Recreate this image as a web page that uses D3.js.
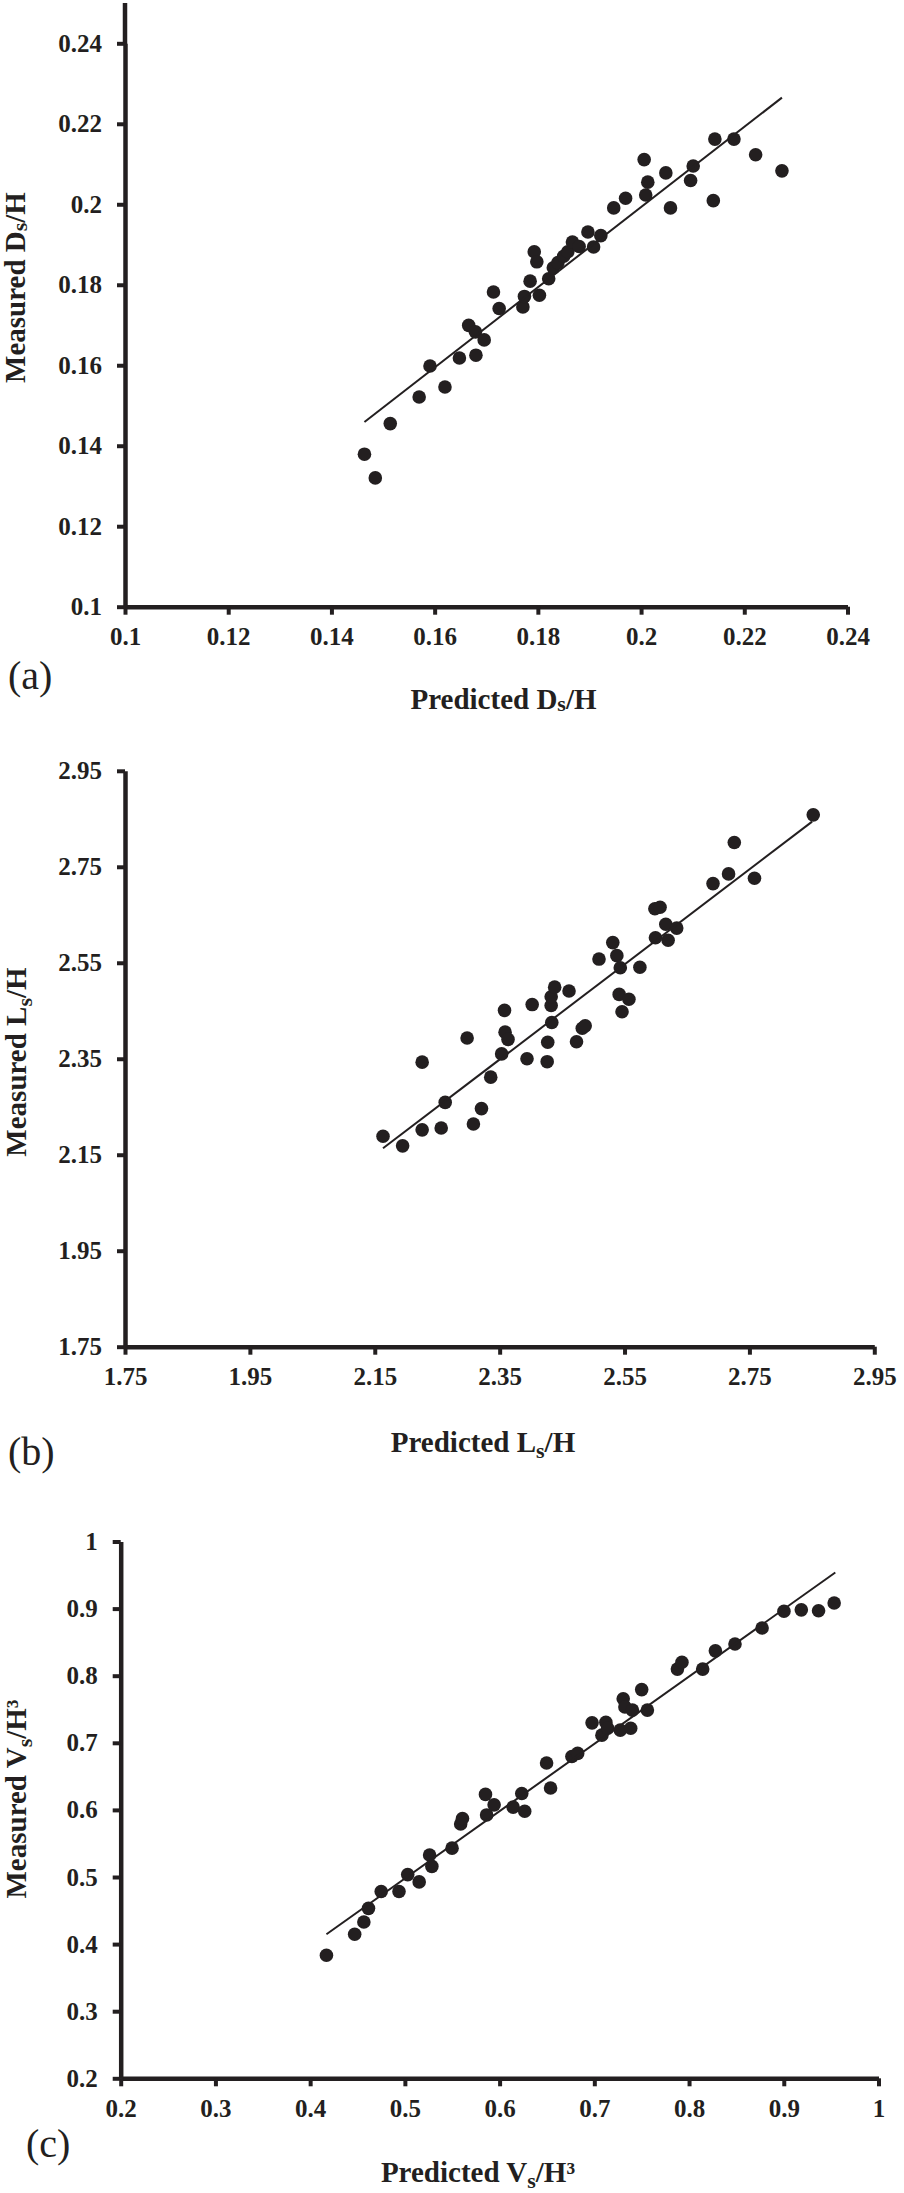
<!DOCTYPE html>
<html>
<head>
<meta charset="utf-8">
<script src="https://cdn.jsdelivr.net/npm/d3@7"></script>
<style>
  body { margin: 0; background: #fff; }
  svg text { font-family: "Liberation Serif", "Times New Roman", serif; }
</style>
</head>
<body>
<svg id="chart" width="904" height="2193"></svg>
<script>
// (a) Ds/H
var aPredicted = [0.1464, 0.1485, 0.1514, 0.1570, 0.1591, 0.1620, 0.1648, 0.1680, 0.1666, 0.1679,
                  0.1696, 0.1714, 0.1725, 0.1771, 0.1774, 0.1785, 0.1803, 0.1793, 0.1798, 0.1821,
                  0.1830, 0.1839, 0.1850, 0.1858, 0.1867, 0.1880, 0.1897, 0.1908, 0.1922, 0.1947,
                  0.1970, 0.2006, 0.2009, 0.2013, 0.2048, 0.2057, 0.2096, 0.2101, 0.2140, 0.2143,
                  0.2180, 0.2222, 0.2273];
var aMeasured  = [0.1379, 0.1320, 0.1455, 0.1521, 0.1598, 0.1546, 0.1618, 0.1625, 0.1699, 0.1683,
                  0.1663, 0.1782, 0.1741, 0.1745, 0.1771, 0.1809, 0.1774, 0.1882, 0.1857, 0.1815,
                  0.1842, 0.1855, 0.1871, 0.1882, 0.1906, 0.1895, 0.1931, 0.1894, 0.1922, 0.1991,
                  0.2015, 0.2111, 0.2023, 0.2055, 0.2078, 0.1991, 0.2059, 0.2095, 0.2009, 0.2162,
                  0.2162, 0.2123, 0.2083];
var aLineX = [0.1464, 0.2273];
var aLineY = [0.1459, 0.2265];
var aTicks = [0.1, 0.12, 0.14, 0.16, 0.18, 0.2, 0.22, 0.24];
var aTickLabels = ["0.1", "0.12", "0.14", "0.16", "0.18", "0.2", "0.22", "0.24"];

// (b) Ls/H
var bPredicted = [2.1632, 2.1946, 2.2259, 2.2259, 2.2564, 2.2628, 2.2979, 2.3080, 2.3209, 2.3357,
                  2.3532, 2.3578, 2.3587, 2.3634, 2.3938, 2.4021, 2.4261, 2.4270, 2.4335, 2.4325,
                  2.4325, 2.4381, 2.4611, 2.4731, 2.4823, 2.4870, 2.5091, 2.5312, 2.5377, 2.5432,
                  2.5414, 2.5460, 2.5570, 2.5746, 2.5986, 2.6069, 2.5995, 2.6161, 2.6198, 2.6336,
                  2.6917, 2.7166, 2.7258, 2.7581, 2.8522];
var bMeasured  = [2.1886, 2.1685, 2.2018, 2.3429, 2.2058, 2.2592, 2.3933, 2.2139, 2.2461, 2.3117,
                  2.3601, 2.4508, 2.4054, 2.3903, 2.3500, 2.4629, 2.3439, 2.3843, 2.4256, 2.4609,
                  2.4791, 2.4992, 2.4912, 2.3853, 2.4135, 2.4186, 2.5577, 2.5920, 2.5648, 2.5396,
                  2.4841, 2.4478, 2.4740, 2.5406, 2.6626, 2.6656, 2.6021, 2.6303, 2.5970, 2.6222,
                  2.7150, 2.7352, 2.8007, 2.7261, 2.8582];
var bLineX = [2.1632, 2.8504];
var bLineY = [2.1634, 2.8441];
var bTicks = [1.75, 1.95, 2.15, 2.35, 2.55, 2.75, 2.95];
var bTickLabels = ["1.75", "1.95", "2.15", "2.35", "2.55", "2.75", "2.95"];

// (c) Vs/H3
var cPredicted = [0.4172, 0.4470, 0.4567, 0.4616, 0.4750, 0.4938, 0.5030, 0.5151, 0.5261, 0.5285,
                  0.5498, 0.5589, 0.5608, 0.5851, 0.5863, 0.5942, 0.6143, 0.6234, 0.6265, 0.6496,
                  0.6538, 0.6763, 0.6824, 0.6976, 0.7080, 0.7122, 0.7141, 0.7274, 0.7305, 0.7323,
                  0.7384, 0.7402, 0.7500, 0.7560, 0.7877, 0.7925, 0.8144, 0.8278, 0.8485, 0.8771,
                  0.9002, 0.9185, 0.9367, 0.9532];
var cMeasured  = [0.3834, 0.4146, 0.4329, 0.4533, 0.4784, 0.4784, 0.5036, 0.4927, 0.5328, 0.5158,
                  0.5430, 0.5789, 0.5871, 0.6231, 0.5925, 0.6075, 0.6041, 0.6244, 0.5980, 0.6699,
                  0.6326, 0.6795, 0.6842, 0.7297, 0.7114, 0.7304, 0.7216, 0.7189, 0.7657, 0.7535,
                  0.7216, 0.7487, 0.7793, 0.7487, 0.8098, 0.8200, 0.8098, 0.8370, 0.8472, 0.8710,
                  0.8961, 0.8981, 0.8968, 0.9083];
var cLineX = [0.4172, 0.9544];
var cLineY = [0.4146, 0.9538];
var cTicks = [0.2, 0.3, 0.4, 0.5, 0.6, 0.7, 0.8, 0.9, 1];
var cTickLabels = ["0.2", "0.3", "0.4", "0.5", "0.6", "0.7", "0.8", "0.9", "1"];

var ink = "#231f20";
var svg = d3.select("#chart");

function panel(p) {
  var g = svg.append("g");
  var x = d3.scaleLinear().domain(p.xDomain).range(p.xRange);
  var y = d3.scaleLinear().domain(p.yDomain).range(p.yRange);

  // axes
  var xa = g.append("g")
      .attr("transform", "translate(0," + y(p.ticks[0]) + ")")
      .call(d3.axisBottom(x).tickValues(p.ticks).tickFormat((d, i) => p.labels[i])
        .tickSize(8).tickSizeOuter(0).tickPadding(13));
  var ya = g.append("g")
      .attr("transform", "translate(" + x(p.ticks[0]) + ",0)")
      .call(d3.axisLeft(y).tickValues(p.ticks).tickFormat((d, i) => p.labels[i])
        .tickSize(8).tickSizeOuter(0).tickPadding(15));

  [xa, ya].forEach(a => {
    a.attr("font-family", null).attr("font-size", 25).attr("font-weight", "bold").attr("color", ink);
    a.select(".domain").attr("stroke-width", 4.5);
    a.selectAll(".tick line").attr("stroke-width", 4);
  });

  // points
  g.append("g")
      .attr("fill", ink)
    .selectAll("circle")
    .data(p.px.map((v, i) => [v, p.py[i]]))
    .join("circle")
      .attr("cx", d => x(d[0]))
      .attr("cy", d => y(d[1]))
      .attr("r", 6.8);

  // trend line
  g.append("path")
      .datum(p.lx.map((v, i) => [v, p.ly[i]]))
      .attr("fill", "none")
      .attr("stroke", ink)
      .attr("stroke-width", 2)
      .attr("d", d3.line().x(d => x(d[0])).y(d => y(d[1])));

  // axis titles
  function title(sel, word, sym, subDy, rest) {
    sel.attr("fill", ink).attr("font-size", 29).attr("font-weight", "bold").attr("text-anchor", "middle");
    sel.append("tspan").text(word + " " + sym);
    sel.append("tspan").attr("font-size", 22).attr("dy", subDy).text("s");
    sel.append("tspan").attr("dy", -subDy).text(rest);
  }
  title(g.append("text").attr("x", p.xTitle[0]).attr("y", p.xTitle[1]),
        "Predicted", p.sym, p.subDy, p.rest);
  title(g.append("text").attr("transform", "translate(" + p.yTitle[0] + "," + p.yTitle[1] + ") rotate(-90)"),
        "Measured", p.sym, p.subDy, p.rest);

  g.append("text")
      .attr("x", p.tag[0])
      .attr("y", p.tag[1])
      .attr("fill", ink)
      .attr("font-size", 40)
      .text(p.tagText);
}

panel({
  px: aPredicted, py: aMeasured, lx: aLineX, ly: aLineY, ticks: aTicks, labels: aTickLabels,
  xDomain: [0.1, 0.24], xRange: [125, 847.5],
  yDomain: [0.1, 0.24], yRange: [606.7, 43.3],
  sym: "D", subDy: 2, rest: "/H",
  xTitle: [503.5, 709], yTitle: [25, 287.5], tag: [8, 689], tagText: "(a)"
});

panel({
  px: bPredicted, py: bMeasured, lx: bLineX, ly: bLineY, ticks: bTicks, labels: bTickLabels,
  xDomain: [1.75, 2.95], xRange: [125, 874.3],
  yDomain: [1.75, 2.95], yRange: [1346.7, 770.8],
  sym: "L", subDy: 6, rest: "/H",
  xTitle: [483, 1452], yTitle: [26, 1062], tag: [8, 1465], tagText: "(b)"
});

panel({
  px: cPredicted, py: cMeasured, lx: cLineX, ly: cLineY, ticks: cTicks, labels: cTickLabels,
  xDomain: [0.2, 1], xRange: [120.7, 878.5],
  yDomain: [0.2, 1], yRange: [2078.3, 1541.5],
  sym: "V", subDy: 6, rest: "/H³",
  xTitle: [478, 2182], yTitle: [26, 1799], tag: [26, 2157], tagText: "(c)"
});

// panel (a) y axis runs on half a step above its top tick
svg.append("line")
    .attr("x1", 125).attr("x2", 125)
    .attr("y1", 3).attr("y2", 44)
    .attr("stroke", ink).attr("stroke-width", 4.5);
</script>
</body>
</html>
